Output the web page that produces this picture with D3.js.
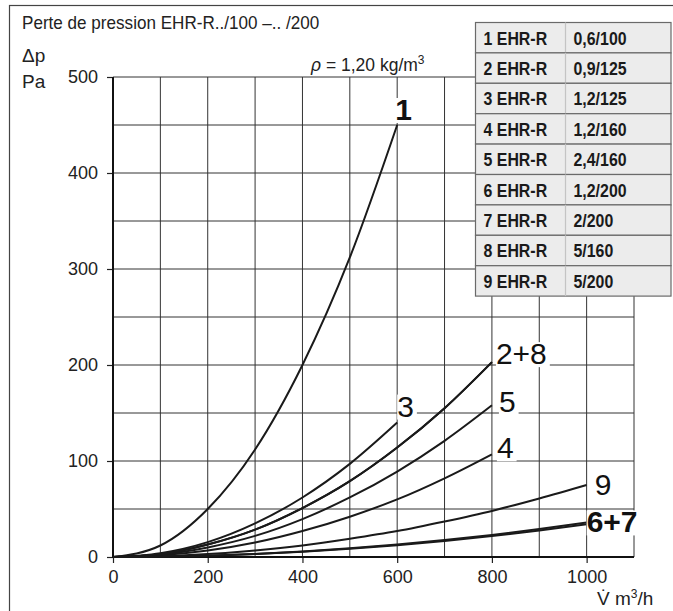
<!DOCTYPE html>
<html>
<head>
<meta charset="utf-8">
<script src="https://cdn.jsdelivr.net/npm/d3@7"></script>
<style>
  body { margin: 0; background: #fff; }
  svg { display: block; font-family: "Liberation Sans", Arial, Helvetica, sans-serif; }
</style>
</head>
<body>
<div id="chart"></div>
<script>
// flow rate V (m3/h), sampled every 100
const flow = [0, 100, 200, 300, 400, 500, 600, 700, 800, 900, 1000];

// pressure loss (Pa) at each flow step
const curve1 = [0, 12, 50, 112, 200, 312, 450];
const curve2 = [0, 3, 13, 28.5, 51, 79, 114, 155, 203];
const curve8 = [0, 3, 13, 28.5, 51, 79, 114, 155, 203];
const curve3 = [0, 4, 15.5, 35, 62, 97, 140];
const curve5 = [0, 2.5, 10, 22, 39.5, 62, 89, 121, 158];
const curve4 = [0, 1.7, 6.7, 15, 27, 42, 60, 82, 107];
const curve9 = [0, 0.8, 3, 6.8, 12, 19, 27, 37, 48, 61, 75];
const curve6 = [0, 0.3, 1.4, 3.1, 5.5, 8.5, 12.3, 16.7, 21.8, 27.6, 34];
const curve7 = [0, 0.4, 1.4, 3.2, 5.8, 9, 13, 17.6, 23, 29.2, 36];

const series = [curve1, curve2, curve3, curve4, curve5, curve6, curve7, curve8, curve9];

// curve labels and which curve they sit on
const labelText = ['1', '2+8', '3', '5', '4', '9', '6+7'];
const labelCurve = [curve1, curve2, curve3, curve5, curve4, curve9, curve7];

// model table
const tableModel = ['1 EHR-R', '2 EHR-R', '3 EHR-R', '4 EHR-R', '5 EHR-R', '6 EHR-R', '7 EHR-R', '8 EHR-R', '9 EHR-R'];
const tableSize = ['0,6/100', '0,9/125', '1,2/125', '1,2/160', '2,4/160', '1,2/200', '2/200', '5/160', '5/200'];

const xTicks = [0, 200, 400, 600, 800, 1000];
const yTicks = [0, 100, 200, 300, 400, 500];
const xGrid = [100, 200, 300, 400, 500, 600, 700, 800, 900, 1000, 1100];
const yGrid = [50, 100, 150, 200, 250, 300, 350, 400, 450, 500];

const width = 673, height = 611;
const svg = d3.select('#chart').append('svg')
    .attr('width', width)
    .attr('height', height);

const x = d3.scaleLinear().domain([0, 1100]).range([113, 634]);
const y = d3.scaleLinear().domain([0, 500]).range([557, 77]);

// outer frame
svg.append('rect')
    .attr('x', 9.5).attr('y', 5.5)
    .attr('width', 720).attr('height', 700)
    .attr('fill', 'none')
    .attr('stroke', '#444')
    .attr('stroke-width', 1.2);

// grid
svg.append('g').selectAll('line')
    .data(xGrid).enter().append('line')
    .attr('x1', d => x(d)).attr('x2', d => x(d))
    .attr('y1', y(0)).attr('y2', y(500))
    .attr('stroke', '#333').attr('stroke-width', 1);
svg.append('g').selectAll('line')
    .data(yGrid).enter().append('line')
    .attr('x1', x(0)).attr('x2', x(1100))
    .attr('y1', d => y(d)).attr('y2', d => y(d))
    .attr('stroke', '#333').attr('stroke-width', 1);

// axes
const yAxis = svg.append('g')
    .attr('transform', `translate(${x(0)},0)`)
    .call(d3.axisLeft(y).tickValues(yTicks).tickFormat(d3.format('d')).tickSize(6).tickPadding(9));
const xAxis = svg.append('g')
    .attr('transform', `translate(0,${y(0)})`)
    .call(d3.axisBottom(x).tickValues(xTicks).tickFormat(d3.format('d')).tickSize(6).tickPadding(7));
[yAxis, xAxis].forEach(a => {
    a.select('.domain').remove();
    a.selectAll('line').attr('stroke', '#222').attr('stroke-width', 1.2);
    a.selectAll('text')
        .attr('fill', '#222')
        .style('font-size', '18px')
        .style('font-family', '"Liberation Sans", Arial, sans-serif');
});

svg.append('line')
    .attr('x1', x(0)).attr('x2', x(0))
    .attr('y1', y(0) + 1).attr('y2', y(500))
    .attr('stroke', '#111').attr('stroke-width', 2);
svg.append('line')
    .attr('x1', x(0) - 1).attr('x2', x(1100))
    .attr('y1', y(0)).attr('y2', y(0))
    .attr('stroke', '#111').attr('stroke-width', 2);

// curves
const line = d3.line()
    .x((d, i) => x(flow[i]))
    .y(d => y(d))
    .curve(d3.curveMonotoneX);

svg.append('g').selectAll('path')
    .data(series).enter().append('path')
    .attr('d', line)
    .attr('fill', 'none')
    .attr('stroke', '#1a1a1a')
    .attr('stroke-width', 2);

// curve labels (white knock-out behind each)
const labelOffset = [[-2, -5], [4, 2], [0, -6], [7, 7], [5, 4], [8, 10], [0, 10]];
const labelBold = [true, false, false, false, false, false, true];
const labelG = svg.append('g');
labelText.forEach((t, i) => {
    const c = labelCurve[i];
    const px = x(flow[c.length - 1]) + labelOffset[i][0];
    const py = y(c[c.length - 1]) + labelOffset[i][1];
    const g = labelG.append('g');
    const txt = g.append('text')
        .attr('x', px).attr('y', py)
        .attr('fill', '#111')
        .style('font-size', '30px')
        .style('font-weight', labelBold[i] ? 'bold' : 'normal')
        .text(t);
    const b = txt.node().getBBox();
    g.insert('rect', 'text')
        .attr('x', b.x).attr('y', b.y + 5)
        .attr('width', b.width + 3).attr('height', b.height - 8)
        .attr('fill', '#fff');
});

// table
const tx0 = 475.5, tx1 = 565.5, tx2 = 671, ty0 = 22.5, rowH = 30.4;
const rows = svg.append('g').selectAll('g')
    .data(tableModel).enter().append('g')
    .attr('transform', (d, i) => `translate(0,${ty0 + i * rowH})`);
rows.append('rect')
    .attr('x', tx0).attr('y', 0)
    .attr('width', tx2 - tx0).attr('height', rowH)
    .attr('fill', '#ececec')
    .attr('stroke', '#6a6a6a')
    .attr('stroke-width', 1.2);
rows.append('line')
    .attr('x1', tx1).attr('x2', tx1)
    .attr('y1', 0).attr('y2', rowH)
    .attr('stroke', '#c4c4c4').attr('stroke-width', 1.2);
rows.append('text')
    .attr('transform', `translate(${tx0 + 8},22) scale(0.86,1)`)
    .text(d => d);
rows.append('text')
    .attr('transform', `translate(${tx1 + 8},22) scale(0.86,1)`)
    .text((d, i) => tableSize[i]);
rows.selectAll('text')
    .attr('fill', '#1a1a1a')
    .style('font-family', '"Liberation Sans Narrow", "Arial Narrow", "Liberation Sans", sans-serif')
    .style('font-weight', 'bold')
    .style('font-size', '18.5px');

// titles and units
svg.append('text')
    .attr('transform', 'translate(22,29) scale(0.95,1)')
    .attr('fill', '#222')
    .style('font-size', '18px')
    .text('Perte de pression EHR-R../100  \u2013.. /200');
svg.append('text')
    .attr('x', 22).attr('y', 62)
    .attr('fill', '#222')
    .style('font-size', '19px')
    .text('\u0394p');
svg.append('text')
    .attr('x', 22).attr('y', 88)
    .attr('fill', '#222')
    .style('font-size', '19px')
    .text('Pa');

const rho = svg.append('text')
    .attr('x', 311).attr('y', 71)
    .attr('fill', '#222')
    .style('font-size', '17.5px');
rho.append('tspan').style('font-style', 'italic').text('\u03c1');
rho.append('tspan').text(' = 1,20 kg/m');
rho.append('tspan').attr('dy', -7).style('font-size', '12px').text('3');

const vlab = svg.append('text')
    .attr('x', 597).attr('y', 605)
    .attr('fill', '#222')
    .style('font-size', '19px');
vlab.append('tspan').text('V\u0307 m');
vlab.append('tspan').attr('dy', -7).style('font-size', '12px').text('3');
vlab.append('tspan').attr('dy', 7).text('/h');
</script>
</body>
</html>
